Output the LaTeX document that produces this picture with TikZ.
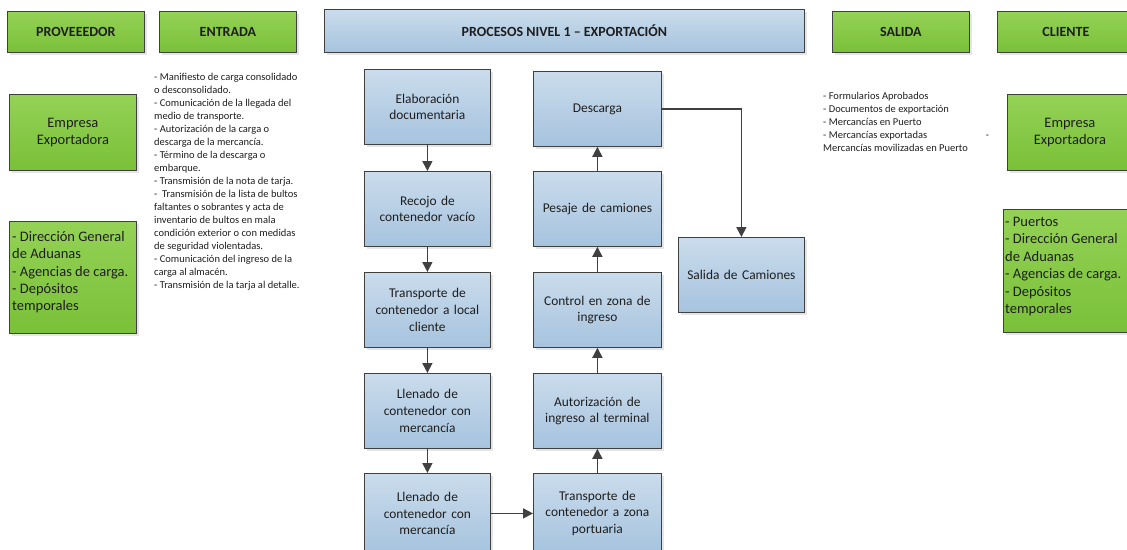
\documentclass[tikz,border=0pt]{standalone}
\usepackage{fontspec}
\setmainfont{Carlito}
\usetikzlibrary{arrows.meta,shadows}
\definecolor{gtop}{RGB}{148,210,86}
\definecolor{gbot}{RGB}{122,192,56}
\definecolor{btop}{RGB}{202,220,236}
\definecolor{bbot}{RGB}{166,195,222}
\definecolor{edge}{RGB}{64,64,64}
\definecolor{txt}{RGB}{30,30,30}
\begin{document}
\begin{tikzpicture}[x=1pt,y=-1pt,
 box/.style={draw=edge, line width=0.8pt, anchor=north west, inner sep=2pt, text=txt,
   drop shadow={shadow xshift=2.5pt, shadow yshift=-2.5pt, fill=black!20}},
 gbox/.style={box, top color=gtop, bottom color=gbot},
 bbox/.style={box, top color=btop, bottom color=bbot},
 head/.style={font=\fontsize{14}{16}\selectfont\bfseries, minimum height=41pt},
 proc/.style={bbox, minimum width=126pt, minimum height=75pt, align=center, text width=122pt,
   font=\fontsize{13.4}{16.7}\selectfont},
 bigtxt/.style={font=\fontsize{14.5}{17.3}\selectfont},
 small/.style={anchor=north west, align=left, inner sep=0pt, text=txt, font=\fontsize{10.5}{12.95}\selectfont},
 listtxt/.style={anchor=north west, align=left, inner sep=0pt, text=txt, font=\fontsize{14.5}{17.4}\selectfont},
 arr/.style={draw=edge, line width=1.6pt, -{Triangle[length=10pt,width=10pt]}},
]
\useasboundingbox (0,0) rectangle (1127,549);

% headers
\node[gbox, head, minimum width=137pt] (hprov) at (7,11) {PROVEEEDOR};
\node[gbox, head, minimum width=137pt] (hent) at (159,11) {ENTRADA};
\node[bbox, head, minimum width=480pt, minimum height=43pt] (hproc) at (324,9) {PROCESOS NIVEL 1 – EXPORTACIÓN};
\node[gbox, head, minimum width=137pt] (hsal) at (832,11) {SALIDA};
\node[gbox, head, minimum width=137pt] (hcli) at (997,11) {CLIENTE};

% proveedor
\node[gbox, bigtxt, minimum width=127pt, minimum height=76pt, align=center] (emp1) at (9,94) {Empresa\\Exportadora};
\node[gbox, minimum width=127pt, minimum height=112pt] (lst1) at (9,221) {};
\node[listtxt] (lst1t) at (12,231) {- Dirección General\\de Aduanas\\- Agencias de carga.\\- Depósitos\\temporales};

% cliente
\node[gbox, bigtxt, minimum width=125pt, minimum height=76pt, align=center] (emp2) at (1007,94) {Empresa\\Exportadora};
\node[gbox, minimum width=127pt, minimum height=123pt] (lst2) at (1003,209) {};
\node[listtxt] (lst2t) at (1005,217) {- Puertos\\- Dirección General\\de Aduanas\\- Agencias de carga.\\- Depósitos\\temporales};

% entrada text
\node[small] (entt) at (154,73.5) {- Manifiesto de carga consolidado\\o desconsolidado.\\- Comunicación de la llegada del\\medio de transporte.\\- Autorización de la carga o\\descarga de la mercancía.\\- Término de la descarga o\\embarque.\\- Transmisión de la nota de tarja.\\-\ \ Transmisión de la lista de bultos\\faltantes o sobrantes y acta de\\inventario de bultos en mala\\condición exterior o con medidas\\de seguridad violentadas.\\- Comunicación del ingreso de la\\carga al almacén.\\- Transmisión de la tarja al detalle.};

% salida text
\node[small] (salt) at (823,92.5) {- Formularios Aprobados\\- Documentos de exportación\\- Mercancías en Puerto\\\makebox[166pt][l]{- Mercancías exportadas\hfill-}\\Mercancías movilizadas en Puerto};

% process boxes
\node[proc] (e1) at (364,69) {Elaboración\\documentaria};
\node[proc] (e2) at (364,171) {Recojo de\\contenedor vacío};
\node[proc] (e3) at (364,272) {Transporte de\\contenedor a local\\cliente};
\node[proc] (e4) at (364,373) {Llenado de\\contenedor con\\mercancía};
\node[proc, minimum height=80pt] (e5) at (364,473) {Llenado de\\contenedor con\\mercancía};
\node[proc, minimum width=128pt, minimum height=80pt] (r1) at (533,473) {Transporte de\\contenedor a zona\\portuaria};
\node[proc, minimum width=128pt] (r2) at (533,373) {Autorización de\\ingreso al terminal};
\node[proc, minimum width=128pt] (r3) at (533,272) {Control en zona de\\ingreso};
\node[proc, minimum width=128pt] (r4) at (533,171) {Pesaje de camiones};
\node[proc, minimum width=128pt] (r5) at (533,71) {Descarga};
\node[proc] (sal) at (678,237) {Salida de Camiones};

% connectors
\draw[arr] (e1) -- (e2);
\draw[arr] (e2) -- (e3);
\draw[arr] (e3) -- (e4);
\draw[arr] (e4) -- (e5);
\draw[arr] (e5) -- (r1);
\draw[arr] (r1) -- (r2);
\draw[arr] (r2) -- (r3);
\draw[arr] (r3) -- (r4);
\draw[arr] (r4) -- (r5);
\draw[arr] (r5.east) -| (sal.north);
\end{tikzpicture}
\end{document}
